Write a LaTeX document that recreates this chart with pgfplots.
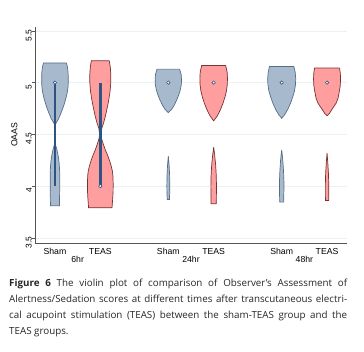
\documentclass[border=0pt]{standalone}
\usepackage{fontspec}
\setmainfont{Liberation Sans}
\newfontfamily\capfont{Open Sans}
\usepackage{pgfplots}
\pgfplotsset{compat=1.18}
\definecolor{shamfill}{RGB}{166,185,205}
\definecolor{shamedge}{RGB}{88,110,135}
\definecolor{teasfill}{RGB}{255,158,158}
\definecolor{teasedge}{RGB}{120,50,50}
\definecolor{boxcol}{RGB}{45,85,130}
\definecolor{gridcol}{RGB}{236,241,245}
\definecolor{axcol}{RGB}{85,85,85}
\begin{document}
\begin{tikzpicture}
\begin{axis}[
  scale only axis, width=312pt, height=216.3pt,
  xmin=0.56, xmax=7.44, ymin=3.45, ymax=5.54,
  clip=false,
  axis x line*=bottom, axis y line*=left,
  axis line style={-, draw=axcol, line width=0.6pt},
  xtick={1,2,3.5,4.5,6,7},
  xticklabels={Sham,TEAS,Sham,TEAS,Sham,TEAS},
  x tick style={draw=none},
  xticklabel style={font=\fontsize{8.7}{10}\selectfont, anchor=north, inner sep=0pt, yshift=-2pt},
  ytick={3.5,4,4.5,5,5.5},
  yticklabels={3.5,4,4.5,5,5.5},
  tick align=outside, major tick length=3pt,
  y tick style={draw=axcol, line width=0.5pt},
  yticklabel style={font=\fontsize{8.4}{10}\selectfont, rotate=90, anchor=south, inner sep=0pt, xshift=-4.5pt},
  ymajorgrids, grid style={draw=gridcol, line width=0.6pt},
  ylabel={OAAS},
  ylabel style={font=\fontsize{8.7}{10}\selectfont, at={(axis description cs:-0.066,0.5)}, anchor=center, inner sep=0pt},
]
% ---- 6hr Sham ----
\addplot[fill=shamfill, draw=shamedge, line width=0.7pt] table[x expr=1+\thisrow{w}/45.35, y=y] {
w y
11.5 5.19
12.5 5.15
13.1 5.10
13.3 5.05
13.3 5.00
13.0 4.95
12.2 4.90
11.0 4.85
9.5 4.80
7.8 4.75
5.8 4.70
3.6 4.65
0 4.59
-3.6 4.65
-5.8 4.70
-7.8 4.75
-9.5 4.80
-11.0 4.85
-12.2 4.90
-13.0 4.95
-13.3 5.00
-13.3 5.05
-13.1 5.10
-12.5 5.15
-11.5 5.19
11.5 5.19
};
\addplot[fill=shamfill, draw=shamedge, line width=0.7pt] table[x expr=1+\thisrow{w}/45.35, y=y] {
w y
0 4.41
1.5 4.37
2.7 4.32
3.6 4.27
4.3 4.21
4.7 4.14
4.8 4.05
4.7 3.95
4.5 3.81
-4.5 3.81
-4.7 3.95
-4.8 4.05
-4.7 4.14
-4.3 4.21
-3.6 4.27
-2.7 4.32
-1.5 4.37
0 4.41
};
% ---- 6hr TEAS ----
\addplot[fill=teasfill, draw=teasedge, line width=0.7pt] table[x expr=2+\thisrow{w}/45.35, y=y] {
w y
9.0 5.21
10.0 5.15
10.5 5.08
10.5 5.00
9.8 4.92
8.6 4.84
7.0 4.76
5.2 4.68
3.3 4.61
1.5 4.56
0.9 4.52
0.9 4.48
1.5 4.45
3.2 4.40
5.0 4.35
7.2 4.30
9.1 4.25
10.7 4.20
12.0 4.15
12.6 4.10
12.9 4.02
12.8 3.95
12.4 3.88
11.7 3.79
-11.7 3.79
-12.4 3.88
-12.8 3.95
-12.9 4.02
-12.6 4.10
-12.0 4.15
-10.7 4.20
-9.1 4.25
-7.2 4.30
-5.0 4.35
-3.2 4.40
-1.5 4.45
-0.9 4.48
-0.9 4.52
-1.5 4.56
-3.3 4.61
-5.2 4.68
-7.0 4.76
-8.6 4.84
-9.8 4.92
-10.5 5.00
-10.5 5.08
-10.0 5.15
-9.0 5.21
9.0 5.21
};
% ---- 24hr Sham ----
\addplot[fill=shamfill, draw=shamedge, line width=0.7pt] table[x expr=3.5+\thisrow{w}/45.35, y=y] {
w y
11.3 5.13
12.8 5.08
13.2 5.03
13.0 4.98
12.0 4.93
10.4 4.88
8.3 4.83
5.8 4.78
3.2 4.74
0 4.71
-3.2 4.74
-5.8 4.78
-8.3 4.83
-10.4 4.88
-12.0 4.93
-13.0 4.98
-13.2 5.03
-12.8 5.08
-11.3 5.13
11.3 5.13
};
\addplot[fill=shamfill, draw=shamedge, line width=0.7pt] table[x expr=3.5+\thisrow{w}/45.35, y=y] {
w y
0 4.29
0.8 4.20
1.3 4.10
1.5 4.00
1.4 3.94
1.1 3.87
-1.1 3.87
-1.4 3.94
-1.5 4.00
-1.3 4.10
-0.8 4.20
0 4.29
};
% ---- 24hr TEAS ----
\addplot[fill=teasfill, draw=teasedge, line width=0.7pt] table[x expr=4.5+\thisrow{w}/45.35, y=y] {
w y
12.0 5.165
13.5 5.10
13.8 5.04
13.6 4.98
12.8 4.92
11.3 4.86
9.3 4.80
6.8 4.74
3.8 4.68
0 4.63
-3.8 4.68
-6.8 4.74
-9.3 4.80
-11.3 4.86
-12.8 4.92
-13.6 4.98
-13.8 5.04
-13.5 5.10
-12.0 5.165
12.0 5.165
};
\addplot[fill=teasfill, draw=teasedge, line width=0.7pt] table[x expr=4.5+\thisrow{w}/45.35, y=y] {
w y
0 4.375
1.0 4.30
2.0 4.20
2.6 4.10
2.8 4.00
2.7 3.90
2.6 3.83
-2.6 3.83
-2.7 3.90
-2.8 4.00
-2.6 4.10
-2.0 4.20
-1.0 4.30
0 4.375
};
% ---- 48hr Sham ----
\addplot[fill=shamfill, draw=shamedge, line width=0.7pt] table[x expr=6+\thisrow{w}/45.35, y=y] {
w y
12.2 5.155
13.5 5.10
14.0 5.04
13.8 4.98
12.8 4.92
11.0 4.86
8.8 4.80
6.0 4.74
3.0 4.69
0 4.655
-3.0 4.69
-6.0 4.74
-8.8 4.80
-11.0 4.86
-12.8 4.92
-13.8 4.98
-14.0 5.04
-13.5 5.10
-12.2 5.155
12.2 5.155
};
\addplot[fill=shamfill, draw=shamedge, line width=0.7pt] table[x expr=6+\thisrow{w}/45.35, y=y] {
w y
0 4.35
1.1 4.25
1.8 4.15
2.2 4.05
2.2 3.95
2.0 3.845
-2.0 3.845
-2.2 3.95
-2.2 4.05
-1.8 4.15
-1.1 4.25
0 4.35
};
% ---- 48hr TEAS ----
\addplot[fill=teasfill, draw=teasedge, line width=0.7pt] table[x expr=7+\thisrow{w}/45.35, y=y] {
w y
12.5 5.14
13.3 5.09
13.5 5.03
13.2 4.97
12.2 4.91
11.0 4.85
9.0 4.80
4.8 4.74
2.2 4.70
0 4.68
-2.2 4.70
-4.8 4.74
-9.0 4.80
-11.0 4.85
-12.2 4.91
-13.2 4.97
-13.5 5.03
-13.3 5.09
-12.5 5.14
12.5 5.14
};
\addplot[fill=teasfill, draw=teasedge, line width=0.7pt] table[x expr=7+\thisrow{w}/45.35, y=y] {
w y
0 4.32
0.8 4.22
1.4 4.12
1.7 4.02
1.7 3.92
1.6 3.86
-1.6 3.86
-1.7 3.92
-1.7 4.02
-1.4 4.12
-0.8 4.22
0 4.32
};
% ---- boxes (IQR) ----
\addplot[draw=boxcol, line width=2.6pt] coordinates {(1,4) (1,5)};
\addplot[draw=boxcol, line width=2.6pt] coordinates {(2,4) (2,5)};
% ---- medians ----
\addplot[only marks, mark=*, mark size=1.7pt, mark options={fill=white, draw=boxcol, line width=0.6pt}]
  coordinates {(1,5) (2,4) (3.5,5) (4.5,5) (6,5) (7,5)};
% group labels
\node[font=\fontsize{8.7}{10}\selectfont, inner sep=0pt] at ([yshift=-16.3pt]axis cs:1.5,3.45) {6hr};
\node[font=\fontsize{8.7}{10}\selectfont, inner sep=0pt] at ([yshift=-16.3pt]axis cs:4,3.45) {24hr};
\node[font=\fontsize{8.7}{10}\selectfont, inner sep=0pt] at ([yshift=-16.3pt]axis cs:6.5,3.45) {48hr};
\end{axis}
\node[anchor=base west, text width=338pt, inner sep=0pt, align=justify,
  font=\capfont\fontsize{9.8}{15.9}\selectfont, text=black!85] at (-26pt,-43.7pt)
  {\textbf{Figure 6} The violin plot of comparison of Observer’s Assessment of\linebreak
  Alertness/Sedation scores at different times after transcutaneous electri-\linebreak
  cal acupoint stimulation (TEAS) between the sham-TEAS group and the\linebreak
  TEAS groups.};
\pgfresetboundingbox
\path[use as bounding box] (-35pt,-109pt) rectangle (329pt,243pt);
\end{tikzpicture}
\end{document}
